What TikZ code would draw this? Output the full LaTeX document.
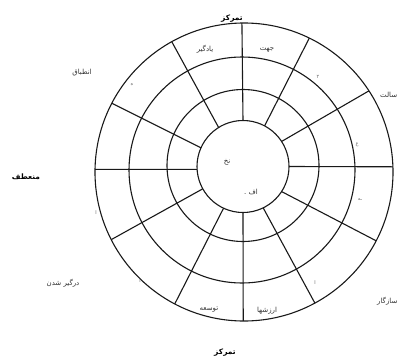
\documentclass[tikz,border=0pt]{standalone}
\usepackage{fontspec}
\newfontfamily\fa[Script=Arabic]{DejaVu Sans}
\TeXXeTstate=1
\usetikzlibrary{calc}
\newcommand{\rtltext}[1]{{\fa\beginR #1\endR}}
\begin{document}
\begin{tikzpicture}[x=1pt,y=1pt,
  ring/.style={line width=1.1pt, draw=black!90},
  lbl/.style={font=\fontsize{7}{8}\selectfont, text=black!80, inner sep=0pt},
  big/.style={font=\fontsize{7.5}{8}\selectfont\bfseries, text=black, inner sep=0pt},
  tinylbl/.style={font=\fontsize{5}{6}\selectfont, text=black!60, inner sep=0pt}]
\useasboundingbox (0,0) rectangle (406,360);
\fill[white] (0,0) rectangle (406,360);
% centres of the rings
\coordinate (O1) at (244,188);
\coordinate (O2) at (242,190);
\coordinate (O3) at (243,194.5);
\coordinate (O4) at (243,193.5);
\draw[ring] (O1) circle[radius=149pt];
\draw[ring] (O2) circle[radius=113pt];
\draw[ring] (O3) circle[radius=76pt];
\draw[ring] (O4) circle[radius=46pt];
% radial spokes
\foreach \i/\o in {0/2,33/33,62/64,90/90.8,122/119,156/152.5,183.5/179,209/207,245/242.3,270/269.7,296/298.4,327/332.5}
  \draw[ring] ($(O4)+(\i:46pt)$) -- ($(O1)+(\o:149pt)$);
% outer labels
\node[big] (ttop) at (232,341) {\rtltext{تمرکز}};
\node[big] (tbot) at (225,7) {\rtltext{تمرکز}};
\node[big] (tleft) at (26,183) {\rtltext{منعطف}};
\node[lbl] (tadapt) at (82,287) {\rtltext{انطباق}};
\node[lbl,anchor=west] (tasalat) at (380,265) {\rtltext{سالت}};
\node[lbl,anchor=west] (tsazgar) at (377,59) {\rtltext{سازگار}};
\node[lbl] (tdargir) at (63,77) {\rtltext{درگیر شدن}};
% sector labels
\node[lbl] (tyad) at (205,311) {\rtltext{یادگیر}};
\node[lbl] (tjahat) at (267,310) {\rtltext{جهت}};
\node[lbl] (ttose) at (209,50) {\rtltext{توسعه}};
\node[lbl] (tarzesh) at (267,49) {\rtltext{ارزشها}};
\node[lbl] (tcen) at (227,198) {\rtltext{نخ}};
\node[lbl] (tcen2) at (251,168) {\rtltext{اف .}};
% small marks
\node[tinylbl] (m1) at (318,283) {\rtltext{۲}};
\node[tinylbl] (m2) at (357,215) {\rtltext{ع}};
\node[tinylbl] (m3) at (360,160) {\rtltext{ـه}};
\node[tinylbl] (m4) at (315,77) {\rtltext{ا}};
\node[tinylbl] (m5) at (140,79) {\rtltext{ا}};
\node[tinylbl] (m6) at (96,147) {\rtltext{ا}};
\node[tinylbl] (m7) at (132,275) {\rtltext{ه}};
\end{tikzpicture}
\end{document}
